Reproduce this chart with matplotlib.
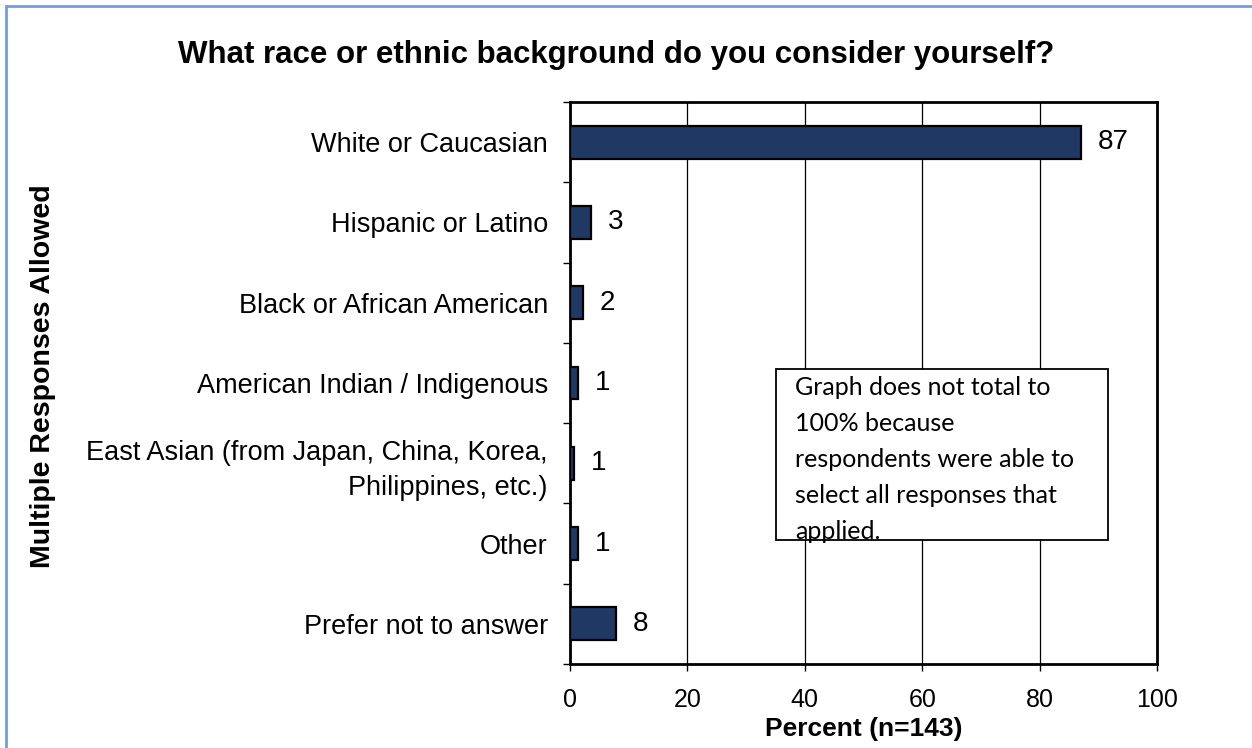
import matplotlib
matplotlib.use("Agg")
import matplotlib.pyplot as plt
from matplotlib.patches import Rectangle
import numpy as np

categories = [
    "White or Caucasian",
    "Hispanic or Latino",
    "Black or African American",
    "American Indian / Indigenous",
    "East Asian (from Japan, China, Korea,\nPhilippines, etc.)",
    "Other",
    "Prefer not to answer",
]
values = [87, 3.5, 2.2, 1.4, 0.7, 1.4, 7.8]
labels = ["87", "3", "2", "1", "1", "1", "8"]
xticks = [0, 20, 40, 60, 80, 100]

plt.rcParams["font.family"] = ["Liberation Sans", "DejaVu Sans"]

fig = plt.figure(figsize=(12.52, 7.48), dpi=100)
ax = fig.add_axes([570/1252, 1 - 664/748, (1157 - 570)/1252, (664 - 102)/748])

y = np.arange(len(categories))
ax.barh(y, values, height=0.41, color="#1F3864", edgecolor="black",
        linewidth=1.6, zorder=3)
for yi, v, lab in zip(y, values, labels):
    ax.text(v + 2.9, yi, lab, va="center", ha="left", fontsize=20, zorder=4)

ax.set_xlim(0, 100)
ax.set_ylim(len(categories) - 0.5, -0.5)
ax.set_xticks(xticks)
ax.set_xticklabels([str(t) for t in xticks], fontsize=18)
ax.set_yticks(y)
ax.set_yticklabels(categories, fontsize=19.5, linespacing=1.45)
ax.set_yticks(np.arange(-0.5, len(categories), 1.0), minor=True)
ax.tick_params(axis="y", which="major", length=0, pad=16)
ax.tick_params(axis="y", which="minor", length=5, width=1, direction="out")
ax.tick_params(axis="x", length=5, width=1, direction="out", pad=12)
ax.grid(axis="x", color="black", linewidth=0.9, zorder=0)
for s in ax.spines.values():
    s.set_linewidth(2)

ax.set_xlabel("Percent (n=143)", fontsize=19, fontweight="bold")
ax.xaxis.set_label_coords(0.5, -(729 - 664) / (664 - 102))
ax.xaxis.label.set_va("center")
fig.text(43/1252, 1 - 376/748, "Multiple Responses Allowed", rotation=90,
         ha="center", va="center", fontsize=20.5, fontweight="bold")
fig.text(616/1252, 1 - 63/748, "What race or ethnic background do you consider yourself?",
         ha="center", va="baseline", fontsize=22.5, fontweight="bold")

# note box
fig.patches.append(Rectangle((776/1252, 1 - 540/748), (1108 - 776)/1252, (540 - 369)/748,
                             transform=fig.transFigure, facecolor="white",
                             edgecolor="black", linewidth=1.3, zorder=5))
fig.text(795/1252, 1 - 376/748,
         "Graph does not total to\n100% because\nrespondents were able to\nselect all responses that\napplied.",
         ha="left", va="top", fontsize=18, linespacing=1.68,
         family=["Lato", "DejaVu Sans"], zorder=6)

# outer frame
fig.patches.append(Rectangle((6/1252, -0.1), 1.2, 1 - 6/748 + 0.1,
                             transform=fig.transFigure, facecolor="none",
                             edgecolor="#6F9FE0", linewidth=2, zorder=1))

fig.savefig("out.png", dpi=100)
